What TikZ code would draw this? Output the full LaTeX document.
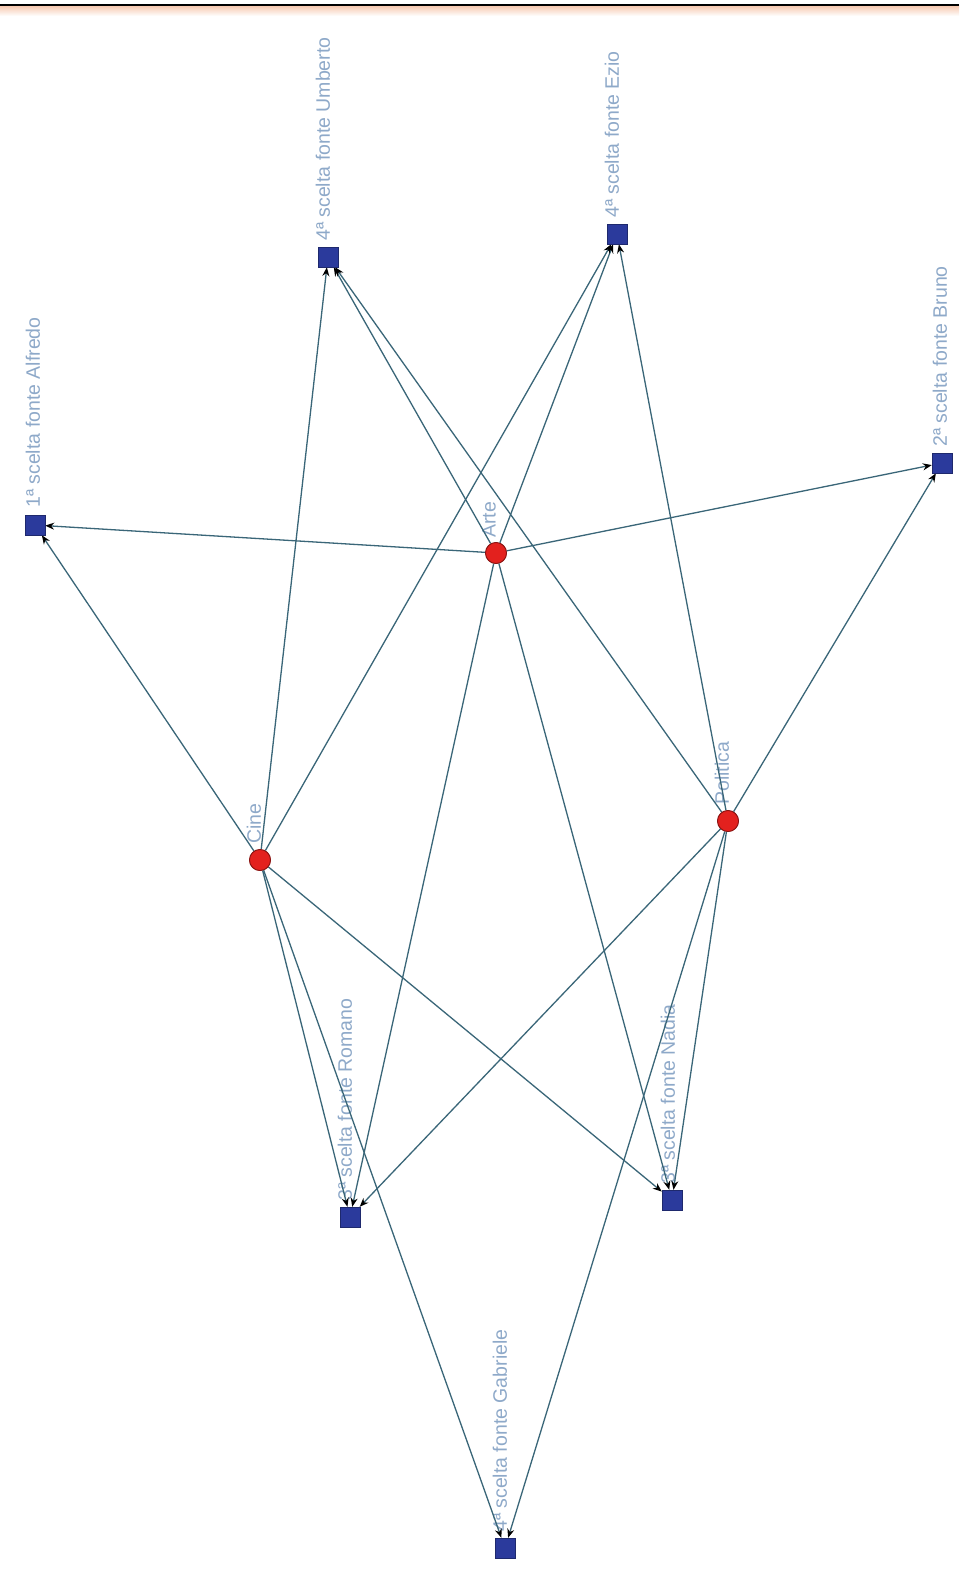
\documentclass[tikz,border=0pt]{standalone}
\usepackage{fontspec}
\setmainfont{Liberation Sans}
\usetikzlibrary{arrows.meta}
\definecolor{sqblue}{HTML}{2B3A9C}
\definecolor{hubred}{HTML}{E3211E}
\definecolor{edgec}{HTML}{3A6678}
\definecolor{labc}{HTML}{8EA9C9}
\definecolor{topor}{HTML}{F6C9B0}
\tikzset{
  sq/.style={rectangle, fill=sqblue, draw=sqblue!70!black, minimum size=20pt, inner sep=0pt},
  hub/.style={circle, fill=hubred, draw=hubred!60!black, line width=0.8pt, minimum size=21pt, inner sep=0pt},
  lab/.style={text=labc, font=\fontsize{19.5}{20}\selectfont, rotate=90, anchor=west, inner sep=2pt},
  hlab/.style={text=labc, font=\fontsize{19.5}{20}\selectfont, rotate=90, anchor=west, inner sep=2pt},
  edge/.style={draw=edgec, line width=1.3pt, -{Stealth[length=9pt,width=7pt,color=black]}}
}
\begin{document}
\begin{tikzpicture}[x=1pt,y=-1pt]
\useasboundingbox (0,0) rectangle (959,1571);
\fill[white] (0,0) rectangle (959,1571);
\shade[top color=topor, bottom color=white] (0,6) rectangle (959,16);
\draw[black, line width=2pt] (0,5) -- (959,5);

% squares
\node[sq] (alf) at (35,525) {};
\node[sq] (umb) at (328,257) {};
\node[sq] (ezi) at (617,234) {};
\node[sq] (bru) at (942,463) {};
\node[sq] (rom) at (350,1217) {};
\node[sq] (nad) at (672,1200) {};
\node[sq] (gab) at (505,1548) {};

% hubs
\node[hub] (arte) at (496,553) {};
\node[hub] (cine) at (260,860) {};
\node[hub] (pol) at (728,821) {};

% labels
\node[lab] (lalf) at (33,510) {1ª scelta fonte Alfredo};
\node[lab] (lumb) at (323,243) {4ª scelta fonte Umberto};
\node[lab] (lezi) at (612,220) {4ª scelta fonte Ezio};
\node[lab] (lbru) at (940,449) {2ª scelta fonte Bruno};
\node[lab] (lrom) at (345,1203) {3ª scelta fonte Romano};
\node[lab] (lnad) at (668,1186) {3ª scelta fonte Nadia};
\node[lab] (lgab) at (500,1534) {4ª scelta fonte Gabriele};
\node[hlab] (larte) at (489,540) {Arte};
\node[hlab] (lcine) at (254,846) {Cine};
\node[hlab] (lpol) at (722,807) {Politica};

% edges
\foreach \t in {alf,bru,umb,ezi,rom,nad} \draw[edge] (arte) -- (\t);
\foreach \t in {alf,umb,ezi,rom,nad,gab} \draw[edge] (cine) -- (\t);
\foreach \t in {bru,umb,ezi,rom,nad,gab} \draw[edge] (pol) -- (\t);

% redraw nodes on top
\node[sq] at (alf) {};
\node[sq] at (umb) {};
\node[sq] at (ezi) {};
\node[sq] at (bru) {};
\node[sq] at (rom) {};
\node[sq] at (nad) {};
\node[sq] at (gab) {};
\node[hub] at (arte) {};
\node[hub] at (cine) {};
\node[hub] at (pol) {};
\end{tikzpicture}
\end{document}
